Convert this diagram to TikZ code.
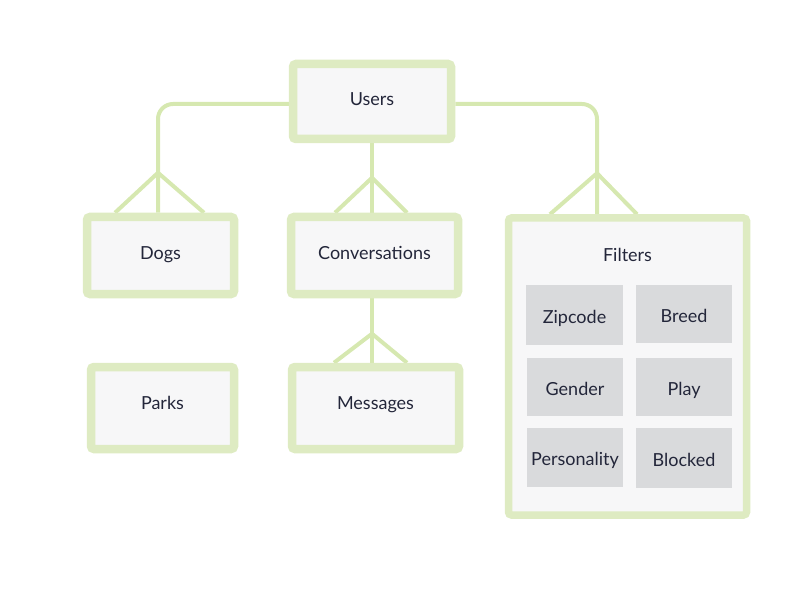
\documentclass[tikz,border=0pt]{standalone}
\usepackage{fontspec}
\setmainfont{Lato}
\usetikzlibrary{calc,backgrounds}
\definecolor{boxgreen}{HTML}{DEEBC2}
\definecolor{linegreen}{HTML}{D6E8B0}
\definecolor{boxfill}{HTML}{F7F7F8}
\definecolor{filtgrey}{HTML}{D9DADC}
\definecolor{txt}{HTML}{23263A}
\tikzset{
  txtstyle/.style={text=txt, font=\fontsize{18}{21}\selectfont, text height=12.5pt, text depth=4pt},
  entity/.style={draw=boxgreen, line width=8.5pt, fill=boxfill, rounded corners=3pt,
    inner sep=0pt, txtstyle},
  filt/.style={fill=filtgrey, inner sep=0pt, txtstyle, text height=20.5pt},
  lbl/.style={inner sep=0pt, txtstyle},
  conn/.style={draw=linegreen, line width=4pt},
}
\begin{document}
\begin{tikzpicture}[x=1pt,y=-1pt]
\useasboundingbox (0,0) rectangle (792,612);

\node[entity, minimum width=158pt, minimum height=75pt] (Users) at (372,101.5) {Users};
\node[entity, minimum width=147pt, minimum height=77pt] (Dogs) at (160.5,255.5) {Dogs};
\node[entity, minimum width=167pt, minimum height=77pt] (Conv) at (374.5,255.5) {Conversations};
\node[entity, minimum width=143pt, minimum height=82pt] (Parks) at (162.5,408) {\raisebox{3pt}{Parks}};
\node[entity, minimum width=167pt, minimum height=82pt] (Msg) at (375.5,408) {\raisebox{3pt}{Messages}};
\node[entity, line width=7.5pt, minimum width=238pt, minimum height=297pt] (Filters) at (627.5,366.5) {};
\node[lbl] (FiltTitle) at (627.5,257) {Filters};

\node[filt, minimum width=97pt, minimum height=60pt] (Zip) at (574.5,315) {Zipcode};
\node[filt, minimum width=96pt, minimum height=58pt] (Breed) at (684,314) {Breed};
\node[filt, minimum width=96pt, minimum height=58pt] (Gender) at (575,387) {Gender};
\node[filt, minimum width=96pt, minimum height=58pt] (Play) at (684,387) {Play};
\node[filt, minimum width=96pt, minimum height=59pt] (Pers) at (575,457.5) {Personality};
\node[filt, minimum width=96pt, minimum height=60pt] (Blocked) at (684,458) {Blocked};

\begin{scope}[on background layer]
  % Users -> Dogs
  \draw[conn, rounded corners=15pt] ([yshift=-2.5pt]Users.west) -| ([xshift=-2.5pt]Dogs.north);
  \draw[conn] ($([xshift=-2.5pt]Dogs.north)+(-43,0)$) -- ($([xshift=-2.5pt]Dogs.north)+(0,-40)$) -- ($([xshift=-2.5pt]Dogs.north)+(46,0)$);
  % Users -> Filters
  \draw[conn, rounded corners=15pt] ([yshift=-2.5pt]Users.east) -| ([xshift=-30.5pt]Filters.north);
  \draw[conn] ($([xshift=-30.5pt]Filters.north)+(-47,0)$) -- ($([xshift=-30.5pt]Filters.north)+(0,-41)$) -- ($([xshift=-30.5pt]Filters.north)+(40,0)$);
  % Users -> Conversations
  \draw[conn] (Users.south) -- (Users.south |- Conv.north);
  \draw[conn] ($(Users.south |- Conv.north)+(-37,0)$) -- ($(Users.south |- Conv.north)+(0,-35)$) -- ($(Users.south |- Conv.north)+(35,0)$);
  % Conversations -> Messages
  \draw[conn] (Users.south |- Conv.south) -- (Users.south |- Msg.north);
  \draw[conn] ($(Users.south |- Msg.north)+(-38,0)$) -- ($(Users.south |- Msg.north)+(0,-29)$) -- ($(Users.south |- Msg.north)+(35,0)$);
\end{scope}
\end{tikzpicture}
\end{document}
